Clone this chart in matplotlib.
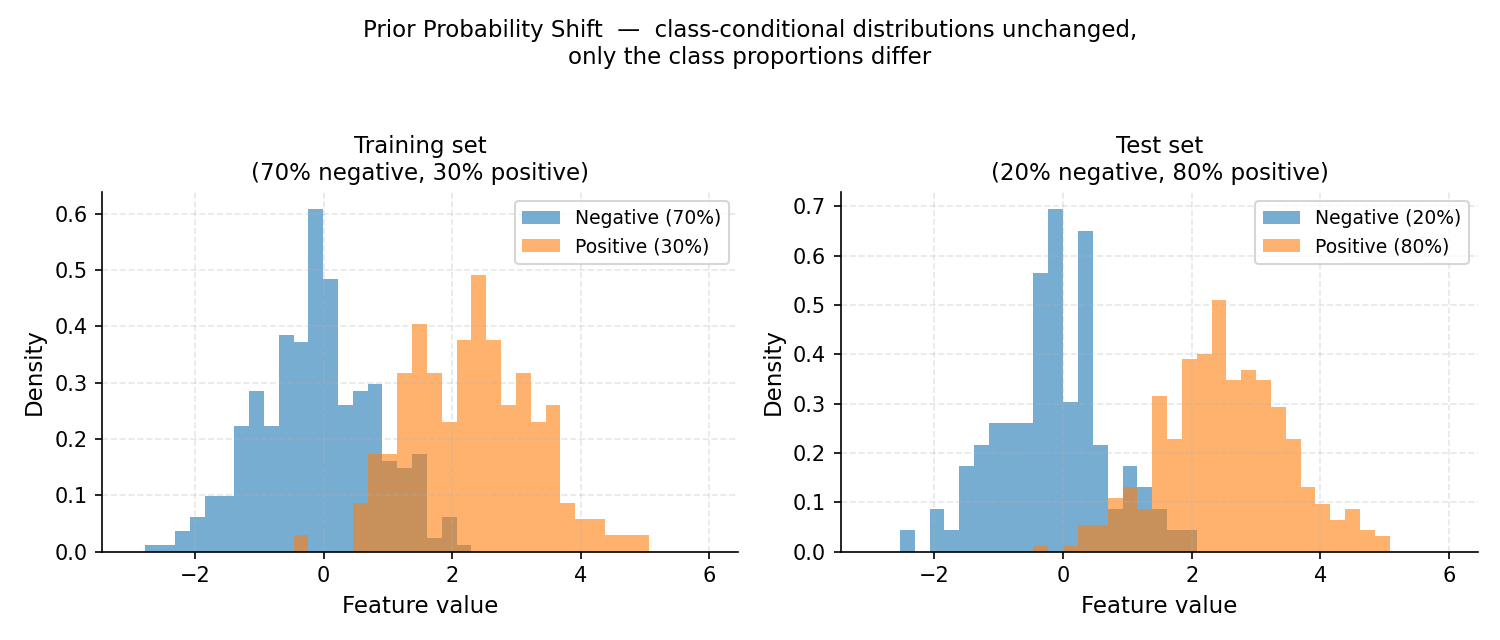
import numpy as np
import matplotlib.pyplot as plt

# bin layout (shared bins per panel)
train_start, train_width, train_nbins = -2.777, 0.2308, 34
test_start, test_width, test_nbins = -2.532, 0.2305, 33

# counts per bin, training set (350 negative, 150 positive)
train_neg = [1, 1, 3, 5, 8, 8, 18, 23, 18, 31, 30, 49, 39, 21, 23, 24, 13,
             12, 14, 2, 5, 1, 0, 0, 0, 0, 0, 0, 0, 0, 0, 0, 0, 0]
train_pos = [0, 0, 0, 0, 0, 0, 0, 0, 0, 0, 1, 0, 0, 0, 3, 6, 6,
             11, 14, 11, 8, 13, 17, 13, 9, 11, 8, 9, 3, 2, 2, 1, 1, 1]

# counts per bin, test set (100 negative, 400 positive)
test_neg = [1, 0, 2, 1, 4, 5, 6, 6, 6, 13, 16, 7, 15, 5, 2, 4, 3,
            2, 1, 1, 0, 0, 0, 0, 0, 0, 0, 0, 0, 0, 0, 0, 0]
test_pos = [0, 0, 0, 0, 0, 0, 0, 0, 0, 1, 0, 1, 5, 5, 10, 12, 8,
            29, 21, 36, 37, 47, 32, 34, 32, 27, 21, 12, 9, 6, 8, 4, 3]

panels = [
    ("Training set\n(70% negative, 30% positive)", "Negative (70%)", "Positive (30%)",
     train_start, train_width, train_nbins, train_neg, train_pos),
    ("Test set\n(20% negative, 80% positive)", "Negative (20%)", "Positive (80%)",
     test_start, test_width, test_nbins, test_neg, test_pos),
]

fig = plt.figure(figsize=(10, 4.2667), dpi=150)
axes = [fig.add_axes([0.068, 0.138, 0.424, 0.562]),
        fig.add_axes([0.5605, 0.138, 0.425, 0.562])]

for ax, (title, lab_neg, lab_pos, start, width, nb, neg, pos) in zip(axes, panels):
    edges = start + width * np.arange(nb + 1)
    centers = (edges[:-1] + edges[1:]) / 2
    ax.hist(centers, bins=edges, weights=neg, density=True, alpha=0.6,
            color="tab:blue", label=lab_neg)
    ax.hist(centers, bins=edges, weights=pos, density=True, alpha=0.6,
            color="tab:orange", label=lab_pos)
    ax.set_title(title, fontsize=11)
    ax.set_xlabel("Feature value", fontsize=11)
    ax.set_ylabel("Density", fontsize=11)
    ax.set_xlim(-3.45, 6.45)
    ax.grid(True, linestyle="--", alpha=0.3)
    ax.spines["top"].set_visible(False)
    ax.spines["right"].set_visible(False)
    ax.legend(fontsize=9)

fig.suptitle("Prior Probability Shift  \u2014  class-conditional distributions unchanged,\n"
             "only the class proportions differ", fontsize=11, y=0.97)

fig.savefig("out.png", dpi=150)
